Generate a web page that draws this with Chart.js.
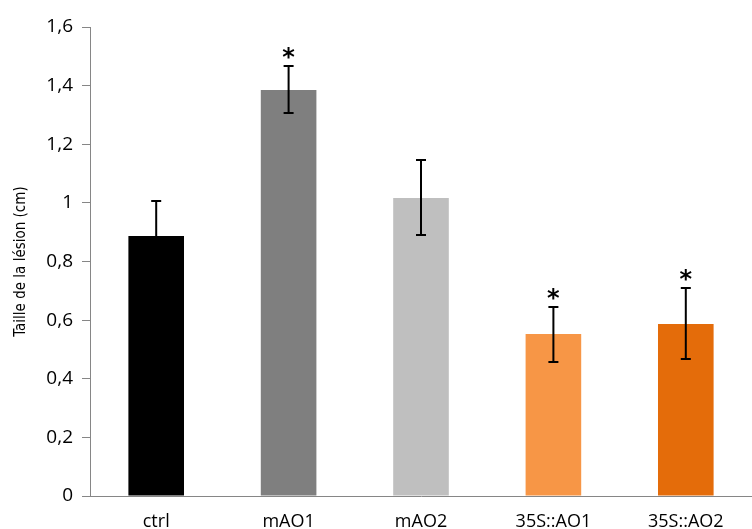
<!DOCTYPE html>
<html>
<head>
<meta charset="utf-8">
<script src="https://cdn.jsdelivr.net/npm/chart.js@4/dist/chart.umd.min.js"></script>
<style>
  body { margin: 0; background: #fff; }
</style>
</head>
<body>
<canvas id="lesionChart" width="752" height="529"></canvas>
<script>
// Data
const categories = ['ctrl', 'mAO1', 'mAO2', '35S::AO1', '35S::AO2'];
const lesionSize = [0.887, 1.385, 1.017, 0.553, 0.587];
const errorUp = [0.119, 0.082, 0.129, 0.092, 0.123];
const errorDown = [0.119, 0.078, 0.127, 0.096, 0.12];
const significant = [false, true, false, true, true];
const barColors = ['#000000', '#7f7f7f', '#bfbfbf', '#f79646', '#e46c0a'];

// error bars + asterisks
const errorBarPlugin = {
    id: 'errorBars',
    afterDatasetsDraw(chart) {
        const ctx = chart.ctx;
        const yScale = chart.scales.y;
        const meta = chart.getDatasetMeta(0);
        ctx.save();
        ctx.strokeStyle = '#000';
        ctx.lineWidth = 2;
        meta.data.forEach(function (bar, i) {
            const x = bar.x;
            const top = yScale.getPixelForValue(lesionSize[i] + errorUp[i]);
            const bottom = yScale.getPixelForValue(lesionSize[i] - errorDown[i]);
            ctx.beginPath();
            ctx.moveTo(x, top);
            ctx.lineTo(x, bottom);
            ctx.moveTo(x - 5, top);
            ctx.lineTo(x + 5, top);
            ctx.moveTo(x - 5, bottom);
            ctx.lineTo(x + 5, bottom);
            ctx.stroke();
            if (significant[i]) {
                ctx.fillStyle = '#000';
                ctx.font = 'bold 24px "DejaVu Sans"';
                ctx.textAlign = 'center';
                ctx.textBaseline = 'alphabetic';
                ctx.fillText('*', x, top - 1);
            }
        });
        ctx.restore();
    }
};

const ctx = document.getElementById('lesionChart').getContext('2d');
const lesionChart = new Chart(ctx, {
    type: 'bar',
    data: {
        labels: categories,
        datasets: [{
            label: 'Taille de la lésion',
            data: lesionSize,
            backgroundColor: barColors,
            borderWidth: 0,
            barPercentage: 0.6,
            categoryPercentage: 0.7
        }]
    },
    options: {
        responsive: false,
        animation: false,
        layout: {
            padding: { top: 27, right: 0, left: 0, bottom: 0 }
        },
        plugins: {
            legend: { display: false },
            tooltip: { enabled: false }
        },
        scales: {
            x: {
                grid: { drawOnChartArea: false, drawTicks: false },
                border: { color: '#868686', width: 1 },
                ticks: {
                    color: '#000',
                    font: { family: 'Open Sans', size: 18 },
                    padding: 15,
                    maxRotation: 0
                },
                afterFit(scale) { scale.height = 33; }
            },
            y: {
                min: 0,
                max: 1.6,
                grid: { drawOnChartArea: false, drawTicks: true, tickLength: 8, color: '#868686' },
                border: { color: '#868686', width: 1 },
                ticks: {
                    stepSize: 0.2,
                    color: '#000',
                    padding: 9,
                    font: { family: 'Open Sans', size: 19 },
                    callback: function (value) {
                        return (Math.round(value * 10) / 10).toString().replace('.', ',');
                    }
                },
                title: {
                    display: true,
                    text: 'Taille de la lésion (cm)',
                    color: '#000',
                    font: { family: '"DejaVu Sans Condensed", "Liberation Sans"', size: 15 },
                    padding: { top: 12, bottom: 0 }
                },
                afterFit(scale) { scale.width = 90; }
            }
        }
    },
    plugins: [errorBarPlugin]
});
</script>
</body>
</html>
